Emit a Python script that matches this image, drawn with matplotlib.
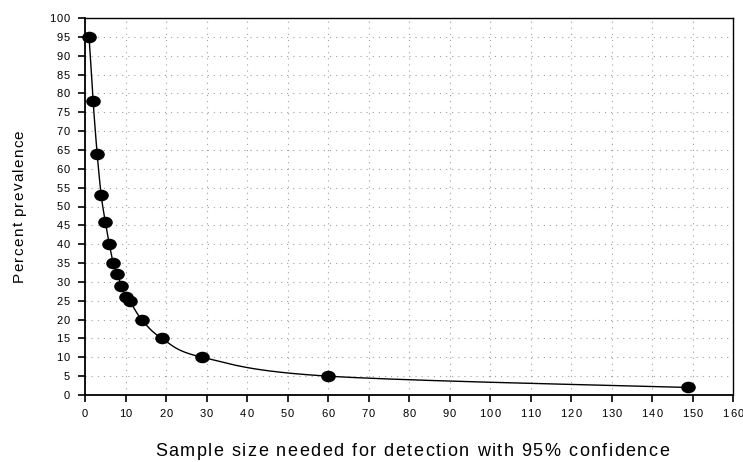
import matplotlib
matplotlib.use("Agg")
import matplotlib.pyplot as plt
import numpy as np
from matplotlib.path import Path
from matplotlib.transforms import Affine2D, offset_copy, blended_transform_factory
from matplotlib.font_manager import FontProperties, findfont
from matplotlib.ft2font import FT2Font

# sample size needed vs. percent prevalence
sample_size = [1, 2, 3, 4, 5, 6, 7, 8, 9, 10, 11, 14, 19, 29, 60, 149]
prevalence = [95, 78, 64, 53, 46, 40, 35, 32, 29, 26, 25, 20, 15, 10, 5, 2]

x_ticks = list(range(0, 161, 10))
y_ticks = list(range(0, 101, 5))

x_label = 'Sample size needed for detection with 95% confidence'
y_label = 'Percent prevalence'

FAMILY = 'Liberation Sans'
DPI = 100


def smooth_line(xs, ys, steps=30):
    # catmull-rom through the points, only used to draw the connecting line
    pts = np.column_stack([xs, ys]).astype(float)
    pts = np.vstack([pts[0], pts, pts[-1]])
    out = []
    for i in range(1, len(pts) - 2):
        p0, p1, p2, p3 = pts[i - 1], pts[i], pts[i + 1], pts[i + 2]
        for t in np.linspace(0, 1, steps, endpoint=False):
            t2, t3 = t * t, t * t * t
            out.append(0.5 * ((2 * p1) + (-p0 + p2) * t +
                              (2 * p0 - 5 * p1 + 4 * p2 - p3) * t2 +
                              (-p0 + 3 * p1 - 3 * p2 + p3) * t3))
    out.append(pts[-2])
    out = np.array(out)
    return out[:, 0], out[:, 1]


_font = FT2Font(findfont(FontProperties(family=FAMILY)))


def advances(s, size):
    _font.set_size(size, DPI)
    return [_font.load_char(ord(c)).linearHoriAdvance / 65536.0 for c in s]


def tracked_text(fig, x, y, s, trans, size, track, ha='center', va='center', vertical=False):
    # draw a string char by char with extra letter spacing (in pixels)
    adv = advances(s, size)
    total = sum(adv) + track * (len(s) - 1)
    if ha == 'center':
        start = -total / 2
    elif ha == 'right':
        start = -total
    else:
        start = 0
    pos = start
    for c, a in zip(s, adv):
        if vertical:
            tr = offset_copy(trans, fig=fig, x=0, y=pos, units='dots')
            fig.text(x, y, c, transform=tr, fontsize=size, family=FAMILY,
                     rotation=90, ha='left', va='baseline', rotation_mode='anchor')
        else:
            tr = offset_copy(trans, fig=fig, x=pos, y=0, units='dots')
            fig.text(x, y, c, transform=tr, fontsize=size, family=FAMILY,
                     ha='left', va=va)
        pos += a + track


fig = plt.figure(figsize=(7.43, 4.62), dpi=DPI)
ax = fig.add_axes([85 / 743, 67 / 462, 648 / 743, 377 / 462])

# wide ellipse marker
ell = Affine2D().scale(1.3, 1.0).transform_path(Path.unit_circle())

lx, ly = smooth_line(sample_size, prevalence)
ax.plot(lx, ly, color='black', lw=1.0, zorder=3)
ax.plot(sample_size, prevalence, linestyle='none', marker=ell, markersize=9.5,
        color='black', zorder=4, clip_on=False)

ax.set_xlim(0, 160)
ax.set_ylim(0, 100)
ax.set_xticks(x_ticks)
ax.set_yticks(y_ticks)
ax.set_xticklabels([])
ax.set_yticklabels([])
ax.tick_params(axis='both', direction='out', length=5, width=1.2, colors='black')
ax.grid(True, linestyle=(0, (1, 4.5)), color='#a0a0a0', lw=0.8)
ax.set_axisbelow(True)

for s in ['left', 'bottom']:
    ax.spines[s].set_linewidth(1.3)
for s in ['top', 'right']:
    ax.spines[s].set_linewidth(1.0)

# tick labels with letter spacing
xt = blended_transform_factory(ax.transData, fig.transFigure)
for v in x_ticks:
    tracked_text(fig, v, 1 - 413 / 462, str(v), xt, 8, 1.2, ha='center', va='center_baseline')
yt = blended_transform_factory(fig.transFigure, ax.transData)
for v in y_ticks:
    tracked_text(fig, 70 / 743, v, str(v), yt, 8, 1.2, ha='right', va='center_baseline')

# axis titles
tracked_text(fig, 412 / 743, 1 - 450 / 462, x_label, fig.transFigure, 13, 1.5,
             ha='center', va='center_baseline')
tracked_text(fig, 23 / 743, 1 - 206 / 462, y_label, fig.transFigure, 11, 1.2,
             vertical=True)

fig.savefig('out.png', dpi=DPI)
